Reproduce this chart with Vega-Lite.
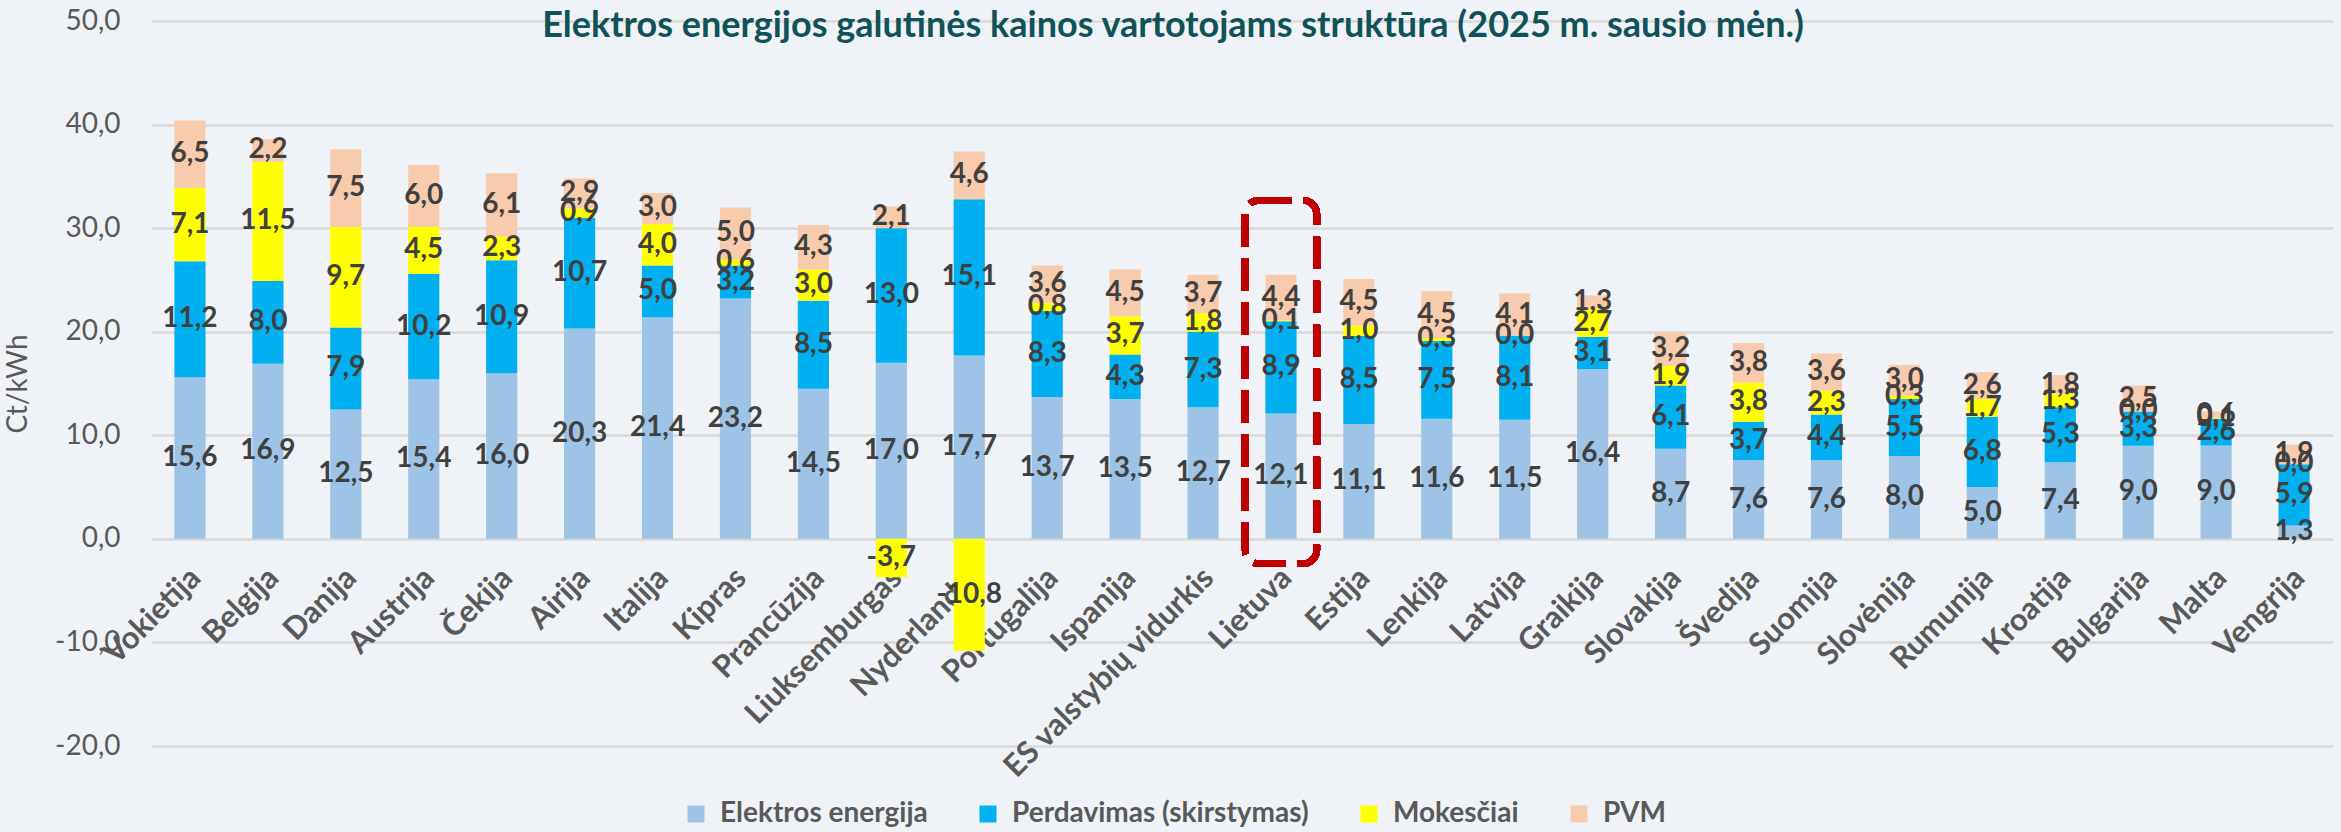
{
  "$schema": "https://vega.github.io/schema/vega-lite/v6.json",
  "autosize": {"type": "none"},
  "padding": {"left": 151, "top": 21, "right": 8, "bottom": 86},
  "width": 2182,
  "height": 725,
  "background": "#EFF3F7",
  "title": {
    "text": "Elektros energijos galutinės kainos vartotojams struktūra (2025 m. sausio mėn.)",
    "font": "Lato", "fontSize": 36, "fontWeight": "bold", "color": "#0F5257",
    "anchor": "middle", "frame": "group", "baseline": "alphabetic", "offset": 0, "dx": -69, "dy": 66
  },
  "data": {"values": [
    {"c":"Vokietija","s":"Elektros energija","k":1,"v":15.6},{"c":"Vokietija","s":"Perdavimas (skirstymas)","k":2,"v":11.2},{"c":"Vokietija","s":"Mokesčiai","k":3,"v":7.1},{"c":"Vokietija","s":"PVM","k":4,"v":6.5},
    {"c":"Belgija","s":"Elektros energija","k":1,"v":16.9},{"c":"Belgija","s":"Perdavimas (skirstymas)","k":2,"v":8.0},{"c":"Belgija","s":"Mokesčiai","k":3,"v":11.5},{"c":"Belgija","s":"PVM","k":4,"v":2.2},
    {"c":"Danija","s":"Elektros energija","k":1,"v":12.5},{"c":"Danija","s":"Perdavimas (skirstymas)","k":2,"v":7.9},{"c":"Danija","s":"Mokesčiai","k":3,"v":9.7},{"c":"Danija","s":"PVM","k":4,"v":7.5},
    {"c":"Austrija","s":"Elektros energija","k":1,"v":15.4},{"c":"Austrija","s":"Perdavimas (skirstymas)","k":2,"v":10.2},{"c":"Austrija","s":"Mokesčiai","k":3,"v":4.5},{"c":"Austrija","s":"PVM","k":4,"v":6.0},
    {"c":"Čekija","s":"Elektros energija","k":1,"v":16.0},{"c":"Čekija","s":"Perdavimas (skirstymas)","k":2,"v":10.9},{"c":"Čekija","s":"Mokesčiai","k":3,"v":2.3},{"c":"Čekija","s":"PVM","k":4,"v":6.1},
    {"c":"Airija","s":"Elektros energija","k":1,"v":20.3},{"c":"Airija","s":"Perdavimas (skirstymas)","k":2,"v":10.7},{"c":"Airija","s":"Mokesčiai","k":3,"v":0.9},{"c":"Airija","s":"PVM","k":4,"v":2.9},
    {"c":"Italija","s":"Elektros energija","k":1,"v":21.4},{"c":"Italija","s":"Perdavimas (skirstymas)","k":2,"v":5.0},{"c":"Italija","s":"Mokesčiai","k":3,"v":4.0},{"c":"Italija","s":"PVM","k":4,"v":3.0},
    {"c":"Kipras","s":"Elektros energija","k":1,"v":23.2},{"c":"Kipras","s":"Perdavimas (skirstymas)","k":2,"v":3.2},{"c":"Kipras","s":"Mokesčiai","k":3,"v":0.6},{"c":"Kipras","s":"PVM","k":4,"v":5.0},
    {"c":"Prancūzija","s":"Elektros energija","k":1,"v":14.5},{"c":"Prancūzija","s":"Perdavimas (skirstymas)","k":2,"v":8.5},{"c":"Prancūzija","s":"Mokesčiai","k":3,"v":3.0},{"c":"Prancūzija","s":"PVM","k":4,"v":4.3},
    {"c":"Liuksemburgas","s":"Elektros energija","k":1,"v":17.0},{"c":"Liuksemburgas","s":"Perdavimas (skirstymas)","k":2,"v":13.0},{"c":"Liuksemburgas","s":"Mokesčiai","k":3,"v":-3.7},{"c":"Liuksemburgas","s":"PVM","k":4,"v":2.1},
    {"c":"Nyderlandai","s":"Elektros energija","k":1,"v":17.7},{"c":"Nyderlandai","s":"Perdavimas (skirstymas)","k":2,"v":15.1},{"c":"Nyderlandai","s":"Mokesčiai","k":3,"v":-10.8},{"c":"Nyderlandai","s":"PVM","k":4,"v":4.6},
    {"c":"Portugalija","s":"Elektros energija","k":1,"v":13.7},{"c":"Portugalija","s":"Perdavimas (skirstymas)","k":2,"v":8.3},{"c":"Portugalija","s":"Mokesčiai","k":3,"v":0.8},{"c":"Portugalija","s":"PVM","k":4,"v":3.6},
    {"c":"Ispanija","s":"Elektros energija","k":1,"v":13.5},{"c":"Ispanija","s":"Perdavimas (skirstymas)","k":2,"v":4.3},{"c":"Ispanija","s":"Mokesčiai","k":3,"v":3.7},{"c":"Ispanija","s":"PVM","k":4,"v":4.5},
    {"c":"ES valstybių vidurkis","s":"Elektros energija","k":1,"v":12.7},{"c":"ES valstybių vidurkis","s":"Perdavimas (skirstymas)","k":2,"v":7.3},{"c":"ES valstybių vidurkis","s":"Mokesčiai","k":3,"v":1.8},{"c":"ES valstybių vidurkis","s":"PVM","k":4,"v":3.7},
    {"c":"Lietuva","s":"Elektros energija","k":1,"v":12.1},{"c":"Lietuva","s":"Perdavimas (skirstymas)","k":2,"v":8.9},{"c":"Lietuva","s":"Mokesčiai","k":3,"v":0.1},{"c":"Lietuva","s":"PVM","k":4,"v":4.4},
    {"c":"Estija","s":"Elektros energija","k":1,"v":11.1},{"c":"Estija","s":"Perdavimas (skirstymas)","k":2,"v":8.5},{"c":"Estija","s":"Mokesčiai","k":3,"v":1.0},{"c":"Estija","s":"PVM","k":4,"v":4.5},
    {"c":"Lenkija","s":"Elektros energija","k":1,"v":11.6},{"c":"Lenkija","s":"Perdavimas (skirstymas)","k":2,"v":7.5},{"c":"Lenkija","s":"Mokesčiai","k":3,"v":0.3},{"c":"Lenkija","s":"PVM","k":4,"v":4.5},
    {"c":"Latvija","s":"Elektros energija","k":1,"v":11.5},{"c":"Latvija","s":"Perdavimas (skirstymas)","k":2,"v":8.1},{"c":"Latvija","s":"Mokesčiai","k":3,"v":0.0},{"c":"Latvija","s":"PVM","k":4,"v":4.1},
    {"c":"Graikija","s":"Elektros energija","k":1,"v":16.4},{"c":"Graikija","s":"Perdavimas (skirstymas)","k":2,"v":3.1},{"c":"Graikija","s":"Mokesčiai","k":3,"v":2.7},{"c":"Graikija","s":"PVM","k":4,"v":1.3},
    {"c":"Slovakija","s":"Elektros energija","k":1,"v":8.7},{"c":"Slovakija","s":"Perdavimas (skirstymas)","k":2,"v":6.1},{"c":"Slovakija","s":"Mokesčiai","k":3,"v":1.9},{"c":"Slovakija","s":"PVM","k":4,"v":3.2},
    {"c":"Švedija","s":"Elektros energija","k":1,"v":7.6},{"c":"Švedija","s":"Perdavimas (skirstymas)","k":2,"v":3.7},{"c":"Švedija","s":"Mokesčiai","k":3,"v":3.8},{"c":"Švedija","s":"PVM","k":4,"v":3.8},
    {"c":"Suomija","s":"Elektros energija","k":1,"v":7.6},{"c":"Suomija","s":"Perdavimas (skirstymas)","k":2,"v":4.4},{"c":"Suomija","s":"Mokesčiai","k":3,"v":2.3},{"c":"Suomija","s":"PVM","k":4,"v":3.6},
    {"c":"Slovėnija","s":"Elektros energija","k":1,"v":8.0},{"c":"Slovėnija","s":"Perdavimas (skirstymas)","k":2,"v":5.5},{"c":"Slovėnija","s":"Mokesčiai","k":3,"v":0.3},{"c":"Slovėnija","s":"PVM","k":4,"v":3.0},
    {"c":"Rumunija","s":"Elektros energija","k":1,"v":5.0},{"c":"Rumunija","s":"Perdavimas (skirstymas)","k":2,"v":6.8},{"c":"Rumunija","s":"Mokesčiai","k":3,"v":1.7},{"c":"Rumunija","s":"PVM","k":4,"v":2.6},
    {"c":"Kroatija","s":"Elektros energija","k":1,"v":7.4},{"c":"Kroatija","s":"Perdavimas (skirstymas)","k":2,"v":5.3},{"c":"Kroatija","s":"Mokesčiai","k":3,"v":1.3},{"c":"Kroatija","s":"PVM","k":4,"v":1.8},
    {"c":"Bulgarija","s":"Elektros energija","k":1,"v":9.0},{"c":"Bulgarija","s":"Perdavimas (skirstymas)","k":2,"v":3.3},{"c":"Bulgarija","s":"Mokesčiai","k":3,"v":0.0},{"c":"Bulgarija","s":"PVM","k":4,"v":2.5},
    {"c":"Malta","s":"Elektros energija","k":1,"v":9.0},{"c":"Malta","s":"Perdavimas (skirstymas)","k":2,"v":2.6},{"c":"Malta","s":"Mokesčiai","k":3,"v":0.1},{"c":"Malta","s":"PVM","k":4,"v":0.6},
    {"c":"Vengrija","s":"Elektros energija","k":1,"v":1.3},{"c":"Vengrija","s":"Perdavimas (skirstymas)","k":2,"v":5.9},{"c":"Vengrija","s":"Mokesčiai","k":3,"v":0.0},{"c":"Vengrija","s":"PVM","k":4,"v":1.9}
  ]},
  "encoding": {
    "x": {
      "field": "c", "type": "nominal", "sort": null,
      "scale": {"paddingInner": 0, "paddingOuter": 0},
      "axis": {
        "title": null, "offset": -207, "domain": false, "ticks": false, "grid": false,
        "labelAngle": -45, "labelAlign": "right", "labelBaseline": "middle", "labelPadding": 34, "labelOffset": 6,
        "labelFont": "Lato", "labelFontSize": 31, "labelFontWeight": "bold", "labelColor": "#595959",
        "labelOverlap": false, "labelLimit": 0, "labelBound": false
      }
    }
  },
  "layer": [
    {
      "mark": {"type": "bar", "width": {"band": 0.4}},
      "encoding": {
        "y": {
          "field": "v", "type": "quantitative", "stack": "zero",
          "scale": {"domain": [-20, 50], "nice": false, "zero": false},
          "axis": {
            "title": "Ct/kWh", "values": [-20, -10, 0, 10, 20, 30, 40, 50], "format": ".1f",
            "domain": false, "ticks": false, "grid": true, "gridColor": "#D9D9D9", "gridWidth": 2.5,
            "labelFont": "Lato", "labelFontSize": 28, "labelColor": "#595959", "labelPadding": 31,
            "titleFont": "Lato", "titleFontSize": 28, "titleFontWeight": "normal", "titleColor": "#595959", "titlePadding": 22
          }
        },
        "color": {
          "field": "s", "type": "nominal",
          "scale": {
            "domain": ["Elektros energija", "Perdavimas (skirstymas)", "Mokesčiai", "PVM"],
            "range": ["#9DC3E6", "#00B0F0", "#FFFF00", "#F8CBAD"]
          },
          "legend": {
            "title": null, "orient": "none", "direction": "horizontal", "columns": 4,
            "legendX": 531, "legendY": 779, "padding": 0,
            "symbolType": "square", "symbolSize": 289, "symbolStrokeWidth": 0, "symbolOpacity": 1,
            "labelFont": "Lato", "labelFontSize": 28, "labelFontWeight": "bold", "labelColor": "#595959",
            "labelOffset": 10, "columnPadding": 46, "labelLimit": 0
          }
        },
        "order": {"field": "k", "type": "quantitative"}
      }
    },
    {
      "mark": {"type": "text", "font": "Lato", "fontSize": 28, "fontWeight": "bold", "color": "#404040", "baseline": "middle"},
      "encoding": {
        "y": {"field": "v", "type": "quantitative", "stack": "zero", "bandPosition": 0.5},
        "detail": {"field": "s"},
        "order": {"field": "k", "type": "quantitative"},
        "text": {"field": "v", "type": "quantitative", "format": ".1f"}
      }
    },
    {
      "mark": {"type": "rect", "filled": false, "stroke": "#C00000", "strokeWidth": 6.5, "strokeDash": [32, 12], "cornerRadius": 14, "width": {"band": 0.92}},
      "encoding": {
        "x": {"datum": "Lietuva", "type": "nominal"},
        "y": {"datum": 32.7, "type": "quantitative"},
        "y2": {"datum": -2.4}
      }
    }
  ],
  "config": {
    "font": "Lato",
    "view": {"stroke": null},
    "locale": {"number": {"decimal": ",", "thousands": " ", "grouping": [3], "currency": ["", " €"], "minus": "-"}}
  }
}
